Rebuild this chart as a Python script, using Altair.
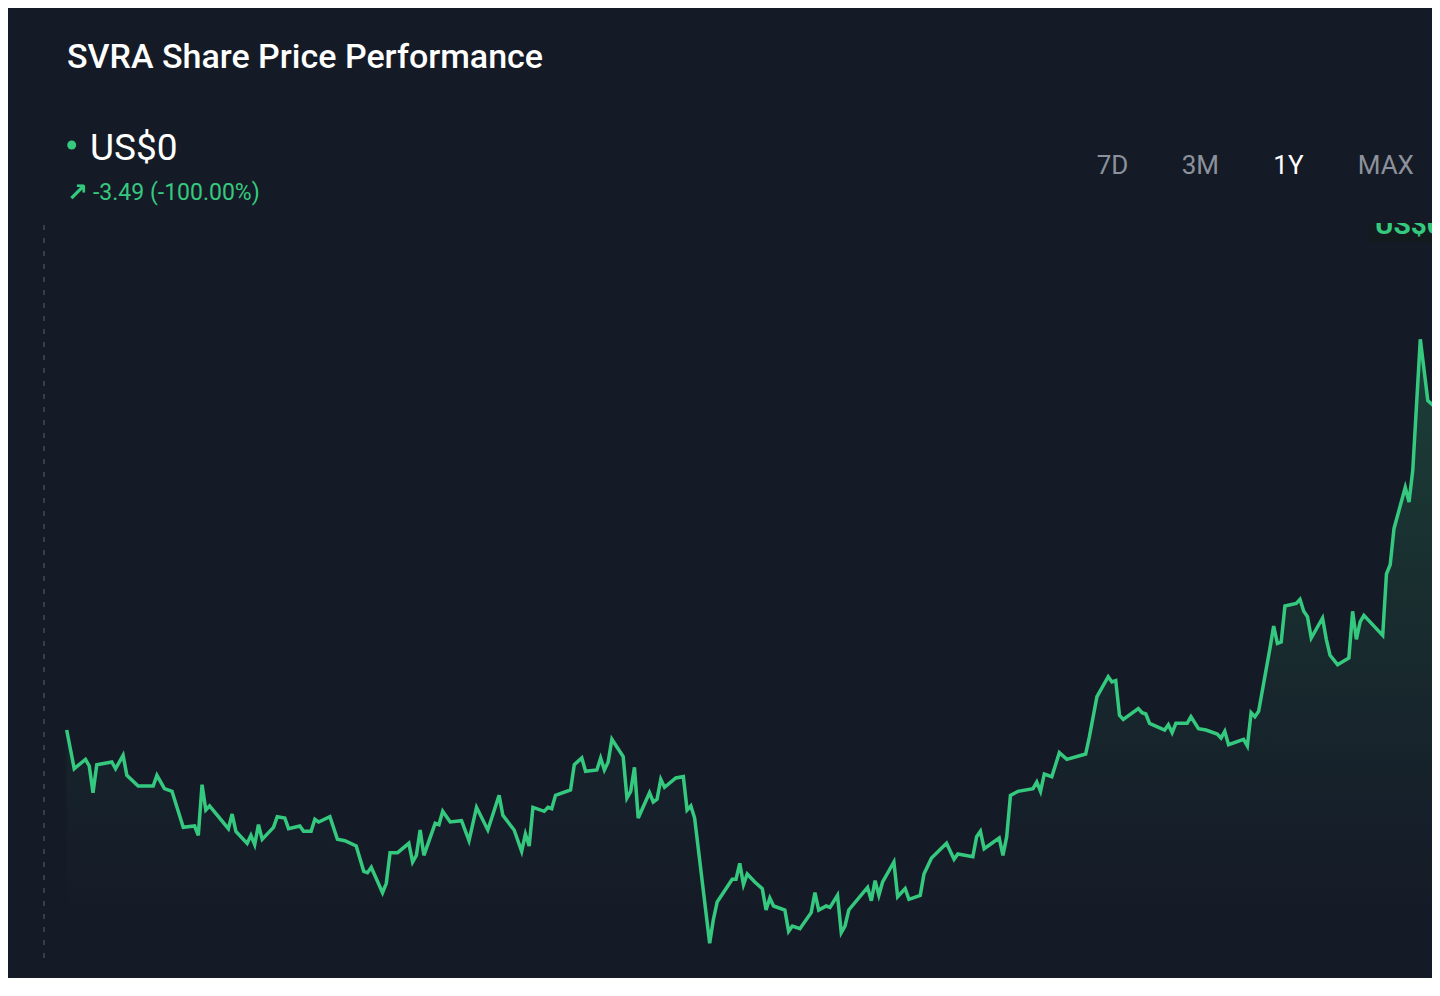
import altair as alt
import pandas as pd

# Trading day index (1-year window) and SVRA close price (US$)
days = [0, 2, 5, 6, 7, 8, 12, 13, 15, 16,
        19, 23, 24, 26, 28, 31, 34, 35, 36, 37,
        38, 43, 44, 45, 48, 49, 50, 51, 52, 55,
        56, 58, 59, 62, 63, 65, 66, 67, 70, 72,
        74, 77, 79, 80, 81, 84, 85, 86, 88, 91,
        92, 93, 94, 95, 98, 99, 100, 102, 105, 107,
        109, 112, 115, 116, 119, 121, 122, 123, 124, 127,
        128, 129, 130, 134, 135, 137, 138, 141, 142, 143,
        144, 145, 148, 149, 150, 151, 152, 155, 156, 157,
        158, 159, 162, 164, 165, 166, 167, 171, 172, 173,
        177, 178, 179, 180, 181, 183, 185, 186, 187, 188,
        191, 192, 193, 195, 198, 199, 200, 202, 203, 205,
        206, 207, 208, 213, 214, 215, 216, 217, 220, 221,
        223, 224, 227, 228, 230, 234, 236, 237, 241, 242,
        243, 244, 248, 249, 250, 251, 253, 257, 258, 259,
        260, 262, 264, 266, 271, 272, 274, 277, 278, 279,
        280, 281, 285, 286, 287, 288, 292, 293, 294, 295,
        298, 299, 301, 303, 306, 307, 308, 309, 313, 314,
        315, 316, 317, 320, 321, 322, 323, 324, 327, 328,
        329, 330, 331, 334, 335, 336, 338, 341, 342, 343,
        344, 345, 350, 351, 352, 353, 356, 357, 358, 360,
        362, 364, 365, 366]

prices = [3.49, 3.20, 3.27, 3.22, 3.02, 3.23, 3.25, 3.20, 3.30, 3.15,
          3.07, 3.07, 3.15, 3.05, 3.03, 2.76, 2.77, 2.70, 3.08, 2.89,
          2.92, 2.75, 2.86, 2.73, 2.64, 2.70, 2.63, 2.78, 2.67, 2.76,
          2.84, 2.83, 2.75, 2.77, 2.73, 2.73, 2.82, 2.80, 2.84, 2.67,
          2.66, 2.62, 2.43, 2.42, 2.46, 2.27, 2.34, 2.57, 2.57, 2.64,
          2.50, 2.55, 2.74, 2.55, 2.79, 2.78, 2.88, 2.80, 2.81, 2.66,
          2.91, 2.74, 3.00, 2.85, 2.74, 2.58, 2.71, 2.62, 2.91, 2.88,
          2.91, 2.90, 3.00, 3.04, 3.23, 3.28, 3.18, 3.19, 3.28, 3.19,
          3.25, 3.42, 3.29, 2.98, 3.03, 3.21, 2.83, 3.02, 2.95, 2.97,
          3.12, 3.06, 3.13, 3.14, 2.89, 2.92, 2.83, 1.89, 2.07, 2.20,
          2.37, 2.37, 2.49, 2.33, 2.41, 2.35, 2.30, 2.14, 2.23, 2.17,
          2.14, 1.98, 2.02, 2.00, 2.12, 2.27, 2.14, 2.17, 2.16, 2.25,
          1.97, 2.02, 2.14, 2.31, 2.21, 2.36, 2.25, 2.35, 2.50, 2.24,
          2.30, 2.22, 2.25, 2.41, 2.53, 2.64, 2.52, 2.56, 2.54, 2.69,
          2.73, 2.60, 2.68, 2.55, 2.69, 3.00, 3.03, 3.05, 3.10, 3.03,
          3.16, 3.14, 3.32, 3.27, 3.31, 3.44, 3.74, 3.89, 3.85, 3.86,
          3.60, 3.57, 3.65, 3.62, 3.61, 3.54, 3.49, 3.53, 3.47, 3.54,
          3.54, 3.59, 3.50, 3.49, 3.46, 3.43, 3.48, 3.38, 3.42, 3.37,
          3.62, 3.59, 3.63, 4.10, 4.27, 4.14, 4.15, 4.42, 4.44, 4.47,
          4.38, 4.34, 4.18, 4.33, 4.17, 4.05, 3.98, 4.03, 4.38, 4.17,
          4.30, 4.35, 4.20, 4.66, 4.73, 5.00, 5.31, 5.20, 5.44, 6.42,
          5.96, 5.91, 6.45, 6.50]

assert len(days) == len(prices)

title = "SVRA Share Price Performance"
price_label = "US$0"
change_label = "-3.49 (-100.00%)"
ranges = ["7D", "3M", "1Y", "MAX"]
active_range = "1Y"
area_floor = 1.73  # price level where the shaded area ends

df = pd.DataFrame({"day": days, "price": prices})

BG = "#151b26"
GREEN = "#35c97f"
GREY = "#8c919b"

xenc = alt.X("day:Q", scale=alt.Scale(domain=[-15.61, 363.11], nice=False, zero=False), axis=None)
yenc = alt.Y("price:Q", scale=alt.Scale(domain=[1.63, 8.905], nice=False, zero=False), axis=None)

grad = alt.Gradient(
    gradient="linear",
    stops=[
        alt.GradientStop(color="#1c4038", offset=0),
        alt.GradientStop(color="#192e2f", offset=0.4),
        alt.GradientStop(color="#16202a", offset=0.75),
        alt.GradientStop(color=BG, offset=0.92),
    ],
    x1=0, x2=0, y1=0, y2=1,
)

area = alt.Chart(df).mark_area(clip=True, color=grad).encode(
    x=xenc, y=yenc, y2=alt.datum(area_floor)
)
line = alt.Chart(df).mark_line(clip=True, color=GREEN, strokeWidth=3.5).encode(x=xenc, y=yenc)

one = alt.Data(values=[{"k": 1}])


def txt(s, x, y, size, color, weight=400, font="Roboto"):
    return alt.Chart(one).mark_text(
        text=s, font=font, fontSize=size, color=color, fontWeight=weight,
        align="left", baseline="alphabetic",
    ).encode(x=alt.value(x), y=alt.value(y))


rule = alt.Chart(one).mark_rule(color="#5b6270", strokeWidth=1, strokeDash=[5, 8]).encode(
    x=alt.value(36), y=alt.value(217), y2=alt.value(957)
)

dot = alt.Chart(one).mark_circle(color=GREEN, size=80, opacity=1).encode(x=alt.value(63.7), y=alt.value(137))

layers = [
    area, line, rule,
    txt(title, 59, 60, 34, "#ffffff", 500),
    dot,
    txt(price_label, 82, 152, 37, "#ffffff", 400),
    txt("↗", 59, 193, 25, GREEN, 700, "DejaVu Sans"),
    txt(change_label, 85, 192, 23, GREEN, 400),
]

btn_x = [1088.7, 1173.7, 1265.3, 1349.7]
for lab, bx in zip(ranges, btn_x):
    layers.append(txt(lab, bx, 166, 26, "#ffffff" if lab == active_range else GREY, 400))

# clipped price tag at the top-right edge
tag_box = alt.Chart(one).mark_rect(color="#131b1e").encode(
    x=alt.value(1360), x2=alt.value(1424), y=alt.value(214), y2=alt.value(234)
)
tag_text = txt(price_label, 1367, 226, 28, GREEN, 700)
tag_cover = alt.Chart(one).mark_rect(color=BG).encode(
    x=alt.value(1355), x2=alt.value(1424), y=alt.value(190), y2=alt.value(215)
)
layers += [tag_box, tag_text, tag_cover]

chart = alt.layer(*layers).properties(
    width=1424, height=970, background=BG, padding=0,
    autosize=alt.AutoSizeParams(type="none"),
).configure_view(strokeWidth=0)

chart.save("out.html", embed_options={"renderer": "svg", "actions": False})
